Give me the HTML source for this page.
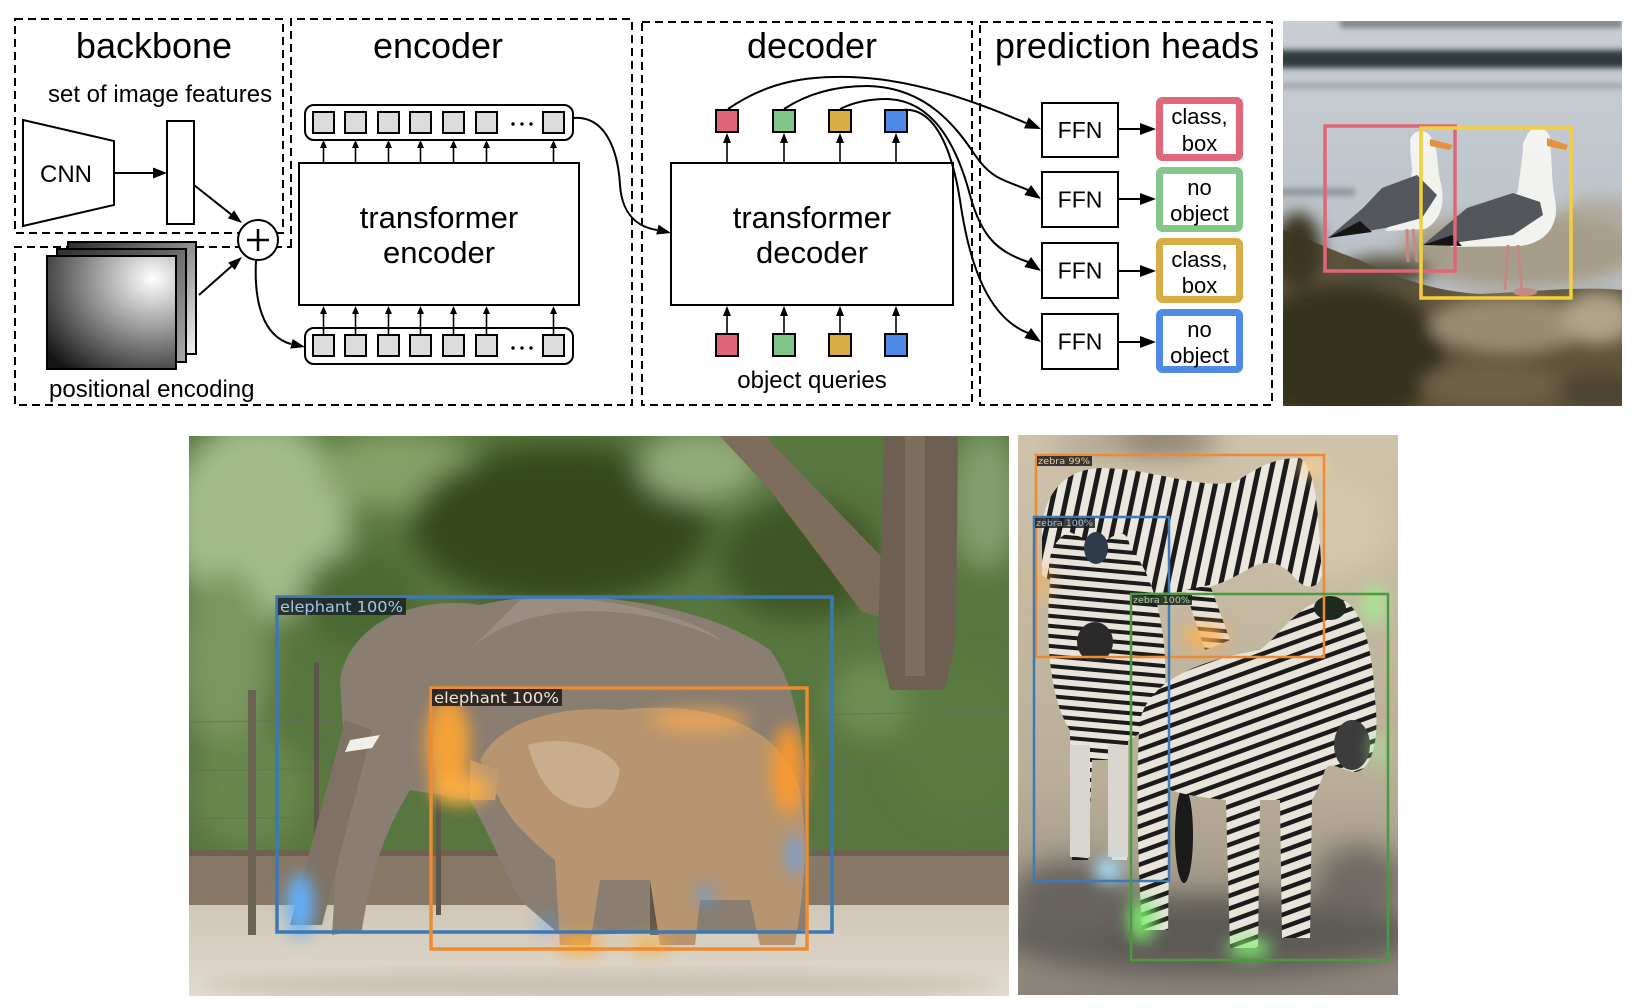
<!DOCTYPE html>
<html><head><meta charset="utf-8"><style>
html,body{margin:0;padding:0;background:#fff;}
svg{display:block;}
text{font-family:"Liberation Sans",Arial,sans-serif;fill:#000;}
.lbl{font-family:"DejaVu Sans","Liberation Sans",sans-serif;}
</style></head><body>
<svg width="1640" height="1008" viewBox="0 0 1640 1008" xmlns="http://www.w3.org/2000/svg">
<defs>
 <linearGradient id="pe1" x1="0" y1="0" x2="1" y2="1"><stop offset="0" stop-color="#2a2a2a"/><stop offset="1" stop-color="#f2f2f2"/></linearGradient>
 <linearGradient id="pe2" x1="0" y1="0" x2="1" y2="1"><stop offset="0" stop-color="#303030"/><stop offset="1" stop-color="#a8a8a8"/></linearGradient>
 <radialGradient id="pe3" cx="0.82" cy="0.2" r="1.05" fx="0.82" fy="0.2"><stop offset="0" stop-color="#ffffff"/><stop offset="1" stop-color="#141414"/></radialGradient>
 <filter id="b3" x="-20%" y="-20%" width="140%" height="140%"><feGaussianBlur stdDeviation="3"/></filter>
 <filter id="b8" x="-30%" y="-30%" width="160%" height="160%"><feGaussianBlur stdDeviation="8"/></filter>
 <filter id="b14" x="-50%" y="-50%" width="200%" height="200%"><feGaussianBlur stdDeviation="14"/></filter>
 <clipPath id="ce"><rect x="189" y="436" width="820" height="560"/></clipPath>
 <clipPath id="cz"><rect x="1018" y="435" width="380" height="560"/></clipPath>
 <clipPath id="cg"><rect x="1283" y="21" width="339" height="385"/></clipPath>
 <linearGradient id="zg" x1="0" y1="0" x2="0" y2="1"><stop offset="0" stop-color="#cfc3aa"/><stop offset="0.62" stop-color="#b9ae98"/><stop offset="1" stop-color="#8a847a"/></linearGradient>
 <linearGradient id="wg" x1="0" y1="0" x2="0" y2="1"><stop offset="0" stop-color="#c9ced4"/><stop offset="1" stop-color="#b3bac2"/></linearGradient>
 <linearGradient id="gr" x1="0" y1="0" x2="0" y2="1"><stop offset="0" stop-color="#cfc6b6"/><stop offset="1" stop-color="#e2dcd0"/></linearGradient>
 <pattern id="zs" width="13" height="13" patternUnits="userSpaceOnUse" patternTransform="rotate(12)"><rect width="13" height="13" fill="#ebe7de"/><rect width="5" height="13" fill="#1b1b1b"/></pattern>
 <pattern id="zs2" width="12" height="12" patternUnits="userSpaceOnUse" patternTransform="rotate(70)"><rect width="12" height="12" fill="#e8e4da"/><rect width="4.5" height="12" fill="#1b1b1b"/></pattern>
 <pattern id="zs3" width="10" height="10" patternUnits="userSpaceOnUse" patternTransform="rotate(95)"><rect width="10" height="10" fill="#e8e4da"/><rect width="4" height="10" fill="#1b1b1b"/></pattern>
</defs>

<!-- ============ DIAGRAM ============ -->
<g fill="none" stroke="#000" stroke-width="2" stroke-dasharray="8 5">
 <rect x="15" y="19" width="268" height="214"/>
 <path d="M291,247 L291,19 L632,19 L632,405 L15,405 L15,247 Z"/>
 <rect x="642" y="22" width="330" height="383"/>
 <rect x="980" y="22" width="292" height="383"/>
</g>

<text x="154" y="58" font-size="36" text-anchor="middle">backbone</text>
<text x="438" y="58" font-size="36" text-anchor="middle">encoder</text>
<text x="812" y="58" font-size="36" text-anchor="middle">decoder</text>
<text x="1127" y="58" font-size="36" text-anchor="middle">prediction heads</text>

<text x="48" y="102" font-size="24">set of image features</text>
<text x="49" y="397" font-size="24">positional encoding</text>

<!-- CNN -->
<polygon points="23,120 114,141 114,205 23,226" fill="#fff" stroke="#000" stroke-width="2"/>
<text x="66" y="182" font-size="24" text-anchor="middle">CNN</text>
<line x1="114" y1="173" x2="154" y2="173" stroke="#000" stroke-width="2"/>
<polygon points="167,173 153,167.5 153,178.5" fill="#000"/>
<rect x="167" y="121" width="27" height="103" fill="#fff" stroke="#000" stroke-width="2"/>

<!-- positional encoding stack -->
<rect x="68" y="242" width="128" height="112" fill="url(#pe1)" stroke="#000" stroke-width="2"/>
<rect x="57" y="249" width="129" height="113" fill="url(#pe2)" stroke="#000" stroke-width="2"/>
<rect x="47" y="256" width="129" height="113" fill="url(#pe3)" stroke="#000" stroke-width="2"/>

<!-- arrows to plus -->
<line x1="194" y1="185" x2="231" y2="214.3" stroke="#000" stroke-width="2"/>
<polygon points="242,223 227.9,218.2 234.1,210.4" fill="#000"/>
<line x1="199" y1="295" x2="231.5" y2="266.3" stroke="#000" stroke-width="2"/>
<polygon points="242,257 234.8,270 228.2,262.6" fill="#000"/>

<circle cx="258" cy="240" r="20" fill="#fff" stroke="#000" stroke-width="2"/>
<line x1="247" y1="240" x2="269" y2="240" stroke="#000" stroke-width="2.5"/>
<line x1="258" y1="229" x2="258" y2="251" stroke="#000" stroke-width="2.5"/>

<path d="M256,261 C254,300 262,336 291,344" fill="none" stroke="#000" stroke-width="2"/>
<polygon points="305,347 290.3,348.6 292.6,339" fill="#000"/>

<!-- encoder -->
<rect x="299" y="163" width="280" height="142" fill="#fff" stroke="#000" stroke-width="2"/>
<text x="439" y="228" font-size="31" text-anchor="middle">transformer</text>
<text x="439" y="263" font-size="31" text-anchor="middle">encoder</text>

<rect x="305" y="105" width="268" height="35" rx="9" fill="#fff" stroke="#000" stroke-width="2"/>
<rect x="305" y="328" width="268" height="36" rx="9" fill="#fff" stroke="#000" stroke-width="2"/>
<g fill="#dcdcdc" stroke="#000" stroke-width="2">
 <rect x="313" y="112" width="21" height="21"/><rect x="345" y="112" width="21" height="21"/><rect x="378" y="112" width="21" height="21"/><rect x="410" y="112" width="21" height="21"/><rect x="443" y="112" width="21" height="21"/><rect x="476" y="112" width="21" height="21"/><rect x="543" y="112" width="21" height="21"/>
 <rect x="313" y="335" width="21" height="21"/><rect x="345" y="335" width="21" height="21"/><rect x="378" y="335" width="21" height="21"/><rect x="410" y="335" width="21" height="21"/><rect x="443" y="335" width="21" height="21"/><rect x="476" y="335" width="21" height="21"/><rect x="543" y="335" width="21" height="21"/>
</g>
<g fill="#000">
 <circle cx="513" cy="124" r="1.7"/><circle cx="522" cy="124" r="1.7"/><circle cx="531" cy="124" r="1.7"/>
 <circle cx="513" cy="348" r="1.7"/><circle cx="522" cy="348" r="1.7"/><circle cx="531" cy="348" r="1.7"/>
</g>
<g stroke="#000" stroke-width="1.6">
 <line x1="323.5" y1="163" x2="323.5" y2="146"/><line x1="355.5" y1="163" x2="355.5" y2="146"/><line x1="388.5" y1="163" x2="388.5" y2="146"/><line x1="420.5" y1="163" x2="420.5" y2="146"/><line x1="453.5" y1="163" x2="453.5" y2="146"/><line x1="486.5" y1="163" x2="486.5" y2="146"/><line x1="553.5" y1="163" x2="553.5" y2="146"/>
 <line x1="323.5" y1="335" x2="323.5" y2="312"/><line x1="355.5" y1="335" x2="355.5" y2="312"/><line x1="388.5" y1="335" x2="388.5" y2="312"/><line x1="420.5" y1="335" x2="420.5" y2="312"/><line x1="453.5" y1="335" x2="453.5" y2="312"/><line x1="486.5" y1="335" x2="486.5" y2="312"/><line x1="553.5" y1="335" x2="553.5" y2="312"/>
</g>
<g fill="#000">
 <polygon points="323.5,140 320,148 327,148"/><polygon points="355.5,140 352,148 359,148"/><polygon points="388.5,140 385,148 392,148"/><polygon points="420.5,140 417,148 424,148"/><polygon points="453.5,140 450,148 457,148"/><polygon points="486.5,140 483,148 490,148"/><polygon points="553.5,140 550,148 557,148"/>
 <polygon points="323.5,306 320,314 327,314"/><polygon points="355.5,306 352,314 359,314"/><polygon points="388.5,306 385,314 392,314"/><polygon points="420.5,306 417,314 424,314"/><polygon points="453.5,306 450,314 457,314"/><polygon points="486.5,306 483,314 490,314"/><polygon points="553.5,306 550,314 557,314"/>
</g>

<!-- encoder -> decoder -->
<path d="M573,118 C605,115 618,150 620,185 C622,215 638,227 657,230" fill="none" stroke="#000" stroke-width="2"/>
<polygon points="671,233 656.2,234.5 658.6,224.8" fill="#000"/>

<!-- decoder -->
<rect x="671" y="163" width="282" height="142" fill="#fff" stroke="#000" stroke-width="2"/>
<text x="812" y="228" font-size="31" text-anchor="middle">transformer</text>
<text x="812" y="263" font-size="31" text-anchor="middle">decoder</text>
<g stroke="#000" stroke-width="2">
 <rect x="716" y="110" width="22" height="22" fill="#e06677"/><rect x="773" y="110" width="22" height="22" fill="#82c589"/><rect x="829" y="110" width="22" height="22" fill="#d8ad44"/><rect x="885" y="110" width="22" height="22" fill="#4f89e5"/>
 <rect x="716" y="334" width="22" height="22" fill="#e06677"/><rect x="773" y="334" width="22" height="22" fill="#82c589"/><rect x="829" y="334" width="22" height="22" fill="#d8ad44"/><rect x="885" y="334" width="22" height="22" fill="#4f89e5"/>
</g>
<g stroke="#000" stroke-width="1.6">
 <line x1="727" y1="163" x2="727" y2="141"/><line x1="784" y1="163" x2="784" y2="141"/><line x1="840" y1="163" x2="840" y2="141"/><line x1="896" y1="163" x2="896" y2="141"/>
 <line x1="727" y1="334" x2="727" y2="314"/><line x1="784" y1="334" x2="784" y2="314"/><line x1="840" y1="334" x2="840" y2="314"/><line x1="896" y1="334" x2="896" y2="314"/>
</g>
<g fill="#000">
 <polygon points="727,133 723,143 731,143"/><polygon points="784,133 780,143 788,143"/><polygon points="840,133 836,143 844,143"/><polygon points="896,133 892,143 900,143"/>
 <polygon points="727,306 723,316 731,316"/><polygon points="784,306 780,316 788,316"/><polygon points="840,306 836,316 844,316"/><polygon points="896,306 892,316 900,316"/>
</g>
<text x="812" y="388" font-size="24" text-anchor="middle">object queries</text>

<!-- curves to FFNs -->
<g fill="none" stroke="#000" stroke-width="2">
 <path d="M728,109 C770,80 810,76 850,77 C920,79 985,106 1026,123"/>
 <path d="M784,109 C810,92 838,86 867,86 C925,87 955,125 975,155 C992,180 1005,180 1028,190"/>
 <path d="M840,109 C856,101 872,99 887,99 C935,100 958,150 970,195 C982,240 1000,252 1028,262"/>
 <path d="M902,110 C935,106 952,150 960,200 C970,270 990,318 1028,333"/>
</g>
<g fill="#000">
 <polygon points="1041,129 1024,128.4 1028.6,117.4"/>
 <polygon points="1041,199 1024.3,195 1031.1,185"/>
 <polygon points="1041,271 1024.3,267 1031.1,257"/>
 <polygon points="1041,342 1024.3,338 1031.1,328"/>
</g>

<!-- FFN boxes -->
<g fill="#fff" stroke="#000" stroke-width="2">
 <rect x="1042" y="103" width="76" height="54"/>
 <rect x="1042" y="172" width="76" height="55"/>
 <rect x="1042" y="243" width="76" height="55"/>
 <rect x="1042" y="314" width="76" height="55"/>
</g>
<g font-size="23" text-anchor="middle">
 <text x="1080" y="138">FFN</text>
 <text x="1080" y="207.5">FFN</text>
 <text x="1080" y="278.5">FFN</text>
 <text x="1080" y="349.5">FFN</text>
</g>
<g stroke="#000" stroke-width="2">
 <line x1="1118" y1="129" x2="1142" y2="129"/><line x1="1118" y1="199" x2="1142" y2="199"/><line x1="1118" y1="271" x2="1142" y2="271"/><line x1="1118" y1="342" x2="1142" y2="342"/>
</g>
<g fill="#000">
 <polygon points="1156,129 1140,123 1140,135"/><polygon points="1156,199 1140,193 1140,205"/><polygon points="1156,271 1140,265 1140,277"/><polygon points="1156,342 1140,336 1140,348"/>
</g>
<g fill="#fff" stroke-width="7">
 <rect x="1159.5" y="100.5" width="80" height="57" rx="3" stroke="#e0687a"/>
 <rect x="1159.5" y="170.5" width="80" height="58" rx="3" stroke="#84c78a"/>
 <rect x="1159.5" y="241.5" width="80" height="58" rx="3" stroke="#d9ad45"/>
 <rect x="1159.5" y="312.5" width="80" height="57" rx="3" stroke="#4f8ae6"/>
</g>
<g font-size="22" text-anchor="middle">
 <text x="1199.5" y="124">class,</text><text x="1199.5" y="151">box</text>
 <text x="1199.5" y="195">no</text><text x="1199.5" y="221">object</text>
 <text x="1199.5" y="267">class,</text><text x="1199.5" y="293">box</text>
 <text x="1199.5" y="337">no</text><text x="1199.5" y="363">object</text>
</g>

<!-- ============ GULL PHOTO ============ -->
<g clip-path="url(#cg)">
 <rect x="1283" y="21" width="339" height="385" fill="url(#wg)"/>
 <g filter="url(#b3)">
  <rect x="1340" y="18" width="282" height="10" fill="#7d868c"/>
  <rect x="1275" y="50" width="360" height="18" fill="#2e3b3d"/>
  <rect x="1275" y="84" width="360" height="4" fill="#8d979d"/>
  <rect x="1275" y="188" width="80" height="8" fill="#6f7a80" opacity="0.6"/>
 </g>
 <g filter="url(#b8)">
  <ellipse cx="1520" cy="250" rx="120" ry="38" fill="#a2977f" opacity="0.85"/>
  <ellipse cx="1600" cy="215" rx="40" ry="18" fill="#aaa08a" opacity="0.7"/>
 </g>
 <path d="M1283,230 C1300,235 1330,250 1360,260 C1400,280 1440,292 1480,294 C1530,292 1580,286 1622,290 L1622,406 L1283,406 Z" fill="#5f543b"/>
 <g filter="url(#b8)">
  <ellipse cx="1345" cy="355" rx="100" ry="70" fill="#36321d"/>
  <ellipse cx="1298" cy="250" rx="24" ry="38" fill="#3a3620"/>
  <ellipse cx="1385" cy="272" rx="45" ry="16" fill="#55503a"/>
  <ellipse cx="1510" cy="325" rx="80" ry="28" fill="#9a8c72"/>
  <ellipse cx="1598" cy="318" rx="36" ry="26" fill="#afa38a"/>
  <ellipse cx="1490" cy="385" rx="70" ry="22" fill="#6e6046"/>
  <ellipse cx="1600" cy="392" rx="40" ry="20" fill="#4e4430"/>
 </g>
 <!-- gull 1 -->
 <path d="M1410,148 C1412,138 1425,130 1433,140 C1438,150 1437,165 1440,180 C1446,200 1442,220 1425,229 L1385,231 C1400,215 1410,190 1412,170 Z" fill="#f1f1ee"/>
 <circle cx="1421" cy="142" r="11" fill="#f4f4f2"/>
 <polygon points="1430,139 1453,145 1450,150 1430,146" fill="#e5933a"/>
 <polygon points="1328,238 1363,208 1382,188 1417,175 1437,195 1422,218 1385,228" fill="#54575c"/>
 <polygon points="1328,238 1360,221 1372,232" fill="#151515"/>
 <line x1="1407" y1="229" x2="1408" y2="262" stroke="#c28b82" stroke-width="3"/>
 <line x1="1413" y1="229" x2="1417" y2="262" stroke="#c28b82" stroke-width="3"/>
 <!-- gull 2 -->
 <path d="M1523,150 C1520,138 1535,126 1548,136 C1553,150 1550,170 1555,200 C1560,225 1546,243 1520,246 L1450,247 C1480,232 1510,215 1518,190 Z" fill="#f2f2ef"/>
 <circle cx="1538" cy="140" r="12" fill="#f4f4f2"/>
 <polygon points="1547,138 1568,145 1566,150 1547,146" fill="#e5933a"/>
 <polygon points="1423,245 1467,208 1513,193 1540,202 1543,215 1513,235 1460,242" fill="#53565b"/>
 <polygon points="1423,245 1452,235 1462,246" fill="#151515"/>
 <line x1="1508" y1="245" x2="1505" y2="290" stroke="#c28b82" stroke-width="3"/>
 <line x1="1518" y1="245" x2="1522" y2="292" stroke="#c28b82" stroke-width="3"/>
 <ellipse cx="1525" cy="292" rx="12" ry="4" fill="#c48a86"/>
 <rect x="1325" y="126" width="130" height="145" fill="none" stroke="#e06677" stroke-width="3.5"/>
 <rect x="1421" y="128" width="150" height="170" fill="none" stroke="#f3d03c" stroke-width="3.5"/>
</g>

<!-- ============ ELEPHANT PHOTO ============ -->
<g clip-path="url(#ce)">
 <rect x="189" y="436" width="820" height="560" fill="#58763f"/>
 <g filter="url(#b14)">
  <ellipse cx="260" cy="520" rx="90" ry="100" fill="#a3bb8b"/>
  <ellipse cx="225" cy="660" rx="45" ry="90" fill="#7a975e"/>
  <ellipse cx="400" cy="470" rx="80" ry="40" fill="#85a068"/>
  <ellipse cx="560" cy="525" rx="150" ry="80" fill="#34491f"/>
  <ellipse cx="700" cy="465" rx="60" ry="35" fill="#93ac7b"/>
  <ellipse cx="800" cy="560" rx="80" ry="60" fill="#3c5426"/>
  <ellipse cx="985" cy="500" rx="35" ry="70" fill="#839e6e"/>
  <ellipse cx="960" cy="740" rx="70" ry="80" fill="#5a7c40"/>
  <ellipse cx="870" cy="700" rx="40" ry="40" fill="#6d8e52"/>
  <ellipse cx="250" cy="790" rx="60" ry="60" fill="#67874d"/>
  <ellipse cx="360" cy="600" rx="60" ry="50" fill="#4b6a33"/>
 </g>
 <!-- tree -->
 <polygon points="720,436 765,436 880,555 892,620 862,612 770,490" fill="#7c6e5a"/>
 <polygon points="884,436 958,436 956,640 945,690 890,690 878,640" fill="#6d6052"/>
 <rect x="905" y="436" width="20" height="240" fill="#8a7d6c" opacity="0.5"/>
 <!-- wires -->
 <g stroke="#6c6a5e" stroke-width="1.5" opacity="0.55">
  <line x1="189" y1="722" x2="1009" y2="712"/><line x1="189" y1="770" x2="1009" y2="765"/><line x1="189" y1="818" x2="1009" y2="815"/>
 </g>
 <!-- wall & ground -->
 <rect x="189" y="852" width="820" height="62" fill="#877865"/>
 <rect x="189" y="850" width="820" height="6" fill="#6e624f"/>
 <rect x="189" y="905" width="820" height="95" fill="url(#gr)"/>
 <g filter="url(#b8)"><ellipse cx="600" cy="985" rx="400" ry="12" fill="#c8bfae"/></g>
 <rect x="248" y="690" width="8" height="245" fill="#6c6453"/>
 <rect x="314" y="662" width="5" height="245" fill="#5e5747"/>
 <rect x="436" y="700" width="5" height="215" fill="#5e5747"/>
 <!-- big elephant -->
 <path d="M340,680 C350,620 420,595 480,605 C560,585 700,600 770,650 C800,690 812,760 806,930 L560,935 L520,900 C500,860 482,820 470,800 L410,790 C392,820 372,860 362,930 L332,935 C336,870 340,800 345,760 Z" fill="#8a7e70"/>
 <path d="M470,650 C520,600 640,600 720,640 C700,620 600,590 520,600 Z" fill="#a39a8c" opacity="0.6"/>
 <polygon points="345,720 372,730 322,925 290,925" fill="#7e7264"/>
 <polygon points="350,740 380,735 372,748 345,752" fill="#f2efe6"/>
 <rect x="650" y="850" width="30" height="85" fill="#5f5649"/>
 <!-- baby elephant -->
 <path d="M480,760 C500,720 560,705 620,710 C700,700 780,720 800,790 C810,850 802,900 795,945 L760,945 L750,900 L700,900 L695,945 L660,945 L650,880 L600,880 L590,945 L560,945 L555,860 C530,840 510,820 500,800 Z" fill="#b79570"/>
 <path d="M528,745 C560,735 610,745 620,770 C615,800 600,810 585,808 C560,805 540,790 528,745 Z" fill="#c9ae8e"/>
 <polygon points="470,760 500,770 495,800 470,800" fill="#c09a70"/>
 <!-- glows -->
 <g filter="url(#b8)">
  <ellipse cx="448" cy="745" rx="22" ry="48" fill="#ffa532" opacity="0.9"/>
  <ellipse cx="460" cy="790" rx="30" ry="15" fill="#ffb040" opacity="0.9"/>
  <ellipse cx="788" cy="770" rx="16" ry="45" fill="#ff9a28" opacity="0.9"/>
  <ellipse cx="700" cy="720" rx="50" ry="12" fill="#f5a850" opacity="0.7"/>
  <ellipse cx="580" cy="945" rx="22" ry="9" fill="#ffaa30"/>
  <ellipse cx="650" cy="945" rx="20" ry="8" fill="#ffaa30" opacity="0.8"/>
  <ellipse cx="300" cy="905" rx="13" ry="32" fill="#5fb4ff"/>
  <ellipse cx="795" cy="855" rx="8" ry="20" fill="#5fa8ff" opacity="0.8"/>
  <ellipse cx="705" cy="895" rx="8" ry="10" fill="#4aa0ff" opacity="0.7"/>
  <ellipse cx="547" cy="925" rx="8" ry="8" fill="#4aa0ff" opacity="0.7"/>
 </g>
 <!-- boxes -->
 <rect x="277" y="597" width="555" height="335" fill="none" stroke="#3b78b5" stroke-width="3.5"/>
 <rect x="431" y="688" width="376" height="261" fill="none" stroke="#ee8a30" stroke-width="3.5"/>
 <rect x="278" y="598" width="128" height="17" fill="#1f2326" opacity="0.88"/>
 <text class="lbl" x="280" y="612" font-size="15" textLength="123" lengthAdjust="spacingAndGlyphs" style="fill:#9ccbee">elephant 100%</text>
 <rect x="432" y="689" width="130" height="17" fill="#1f1d1a" opacity="0.88"/>
 <text class="lbl" x="434" y="703" font-size="15" textLength="125" lengthAdjust="spacingAndGlyphs" style="fill:#f5e6d3">elephant 100%</text>
</g>

<!-- ============ ZEBRA PHOTO ============ -->
<g clip-path="url(#cz)">
 <rect x="1018" y="435" width="380" height="560" fill="url(#zg)"/>
 <g filter="url(#b14)">
  <ellipse cx="1150" cy="440" rx="70" ry="12" fill="#6f675a"/>
  <ellipse cx="1090" cy="445" rx="40" ry="10" fill="#a9a08e"/>
  <ellipse cx="1210" cy="935" rx="210" ry="40" fill="#5d5a54"/>
  <ellipse cx="1070" cy="900" rx="60" ry="40" fill="#68645d"/>
  <ellipse cx="1360" cy="880" rx="45" ry="35" fill="#6f6b63"/>
  <ellipse cx="1330" cy="525" rx="60" ry="50" fill="#d3c8ae"/>
 </g>
 <!-- top zebra -->
 <path d="M1042,540 C1040,500 1060,470 1100,468 C1150,468 1200,490 1235,482 C1255,470 1270,458 1300,458 C1318,470 1318,520 1322,575 C1318,590 1305,590 1295,578 C1280,560 1265,560 1250,568 C1230,580 1210,590 1180,592 C1120,595 1060,590 1042,575 Z" fill="url(#zs)"/>
 <polygon points="1185,590 1210,585 1230,640 1205,650" fill="url(#zs3)"/>
 <!-- left zebra -->
 <path d="M1050,580 C1045,550 1060,535 1070,532 C1085,540 1100,545 1110,538 C1120,532 1128,530 1130,548 C1150,570 1168,620 1165,690 C1160,720 1140,735 1128,740 L1127,860 L1112,860 L1108,760 L1092,760 L1088,860 L1072,860 L1070,730 C1050,700 1045,640 1050,580 Z" fill="url(#zs3)"/>
 <g fill="#d9d6cf">
  <rect x="1070" y="745" width="20" height="112"/><rect x="1108" y="745" width="20" height="112"/>
 </g>
 <ellipse cx="1095" cy="642" rx="18" ry="20" fill="#2a2a2a"/>
 <ellipse cx="1096" cy="548" rx="12" ry="16" fill="#2d3b4a"/>
 <!-- right zebra -->
 <ellipse cx="1184" cy="835" rx="9" ry="48" fill="#1a1a1a"/>
 <path d="M1140,720 C1150,680 1200,660 1260,650 C1285,630 1300,600 1335,598 C1360,600 1372,640 1375,700 C1380,740 1372,770 1355,772 C1340,770 1330,760 1325,770 C1320,785 1315,795 1312,800 L1310,938 L1282,938 L1280,800 L1260,800 L1258,948 L1230,948 L1226,800 C1205,798 1185,795 1170,790 L1168,930 L1142,930 C1138,860 1135,780 1140,720 Z" fill="url(#zs2)"/>
 <ellipse cx="1352" cy="745" rx="18" ry="25" fill="#3c3c3c"/>
 <ellipse cx="1330" cy="608" rx="16" ry="12" fill="#1f2a1f"/>
 <!-- glows -->
 <g filter="url(#b8)">
  <ellipse cx="1142" cy="920" rx="14" ry="22" fill="#80f070" opacity="0.9"/>
  <ellipse cx="1249" cy="948" rx="22" ry="10" fill="#80f070" opacity="0.9"/>
  <ellipse cx="1374" cy="605" rx="12" ry="20" fill="#a0f090" opacity="0.8"/>
  <ellipse cx="1378" cy="750" rx="8" ry="20" fill="#a0f090" opacity="0.6"/>
  <ellipse cx="1108" cy="870" rx="14" ry="12" fill="#a8ddff"/>
  <ellipse cx="1205" cy="637" rx="22" ry="12" fill="#ffb050" opacity="0.9"/>
  <ellipse cx="1313" cy="466" rx="14" ry="10" fill="#ffd090" opacity="0.8"/>
  <ellipse cx="1042" cy="583" rx="8" ry="20" fill="#ffb050" opacity="0.6"/>
 </g>
 <rect x="1036" y="455" width="288" height="202" fill="none" stroke="#ec8a36" stroke-width="2.5"/>
 <rect x="1034" y="517" width="135" height="364" fill="none" stroke="#3d7ab8" stroke-width="2.5"/>
 <rect x="1131" y="594" width="257" height="366" fill="none" stroke="#4a9a3e" stroke-width="2.5"/>
 <rect x="1037" y="456" width="55" height="10" fill="#1e1e1e" opacity="0.85"/>
 <text class="lbl" x="1038" y="464" font-size="9" textLength="52" lengthAdjust="spacingAndGlyphs" style="fill:#f3c9a0">zebra 99%</text>
 <rect x="1035" y="518" width="60" height="10" fill="#1e1e1e" opacity="0.85"/>
 <text class="lbl" x="1036" y="526" font-size="9" textLength="57" lengthAdjust="spacingAndGlyphs" style="fill:#9cc6ea">zebra 100%</text>
 <rect x="1132" y="595" width="60" height="10" fill="#1e1e1e" opacity="0.85"/>
 <text class="lbl" x="1133" y="603" font-size="9" textLength="57" lengthAdjust="spacingAndGlyphs" style="fill:#9ed898">zebra 100%</text>
</g>
</svg>
</body></html>
